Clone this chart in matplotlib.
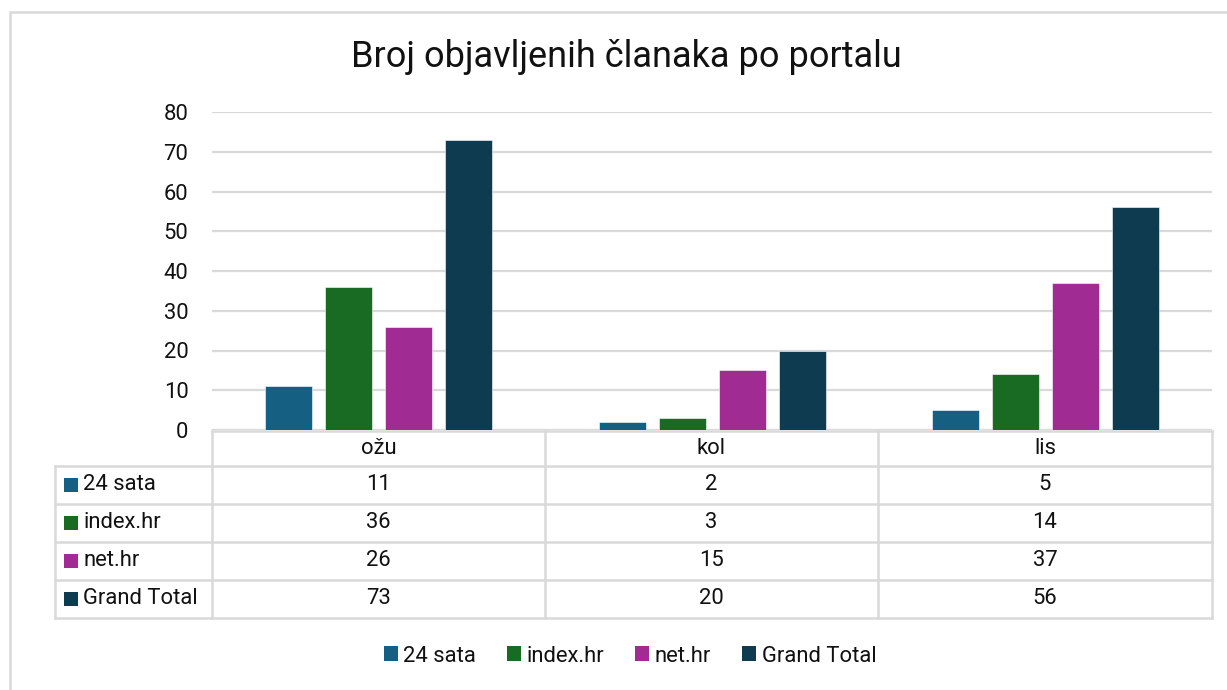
import matplotlib
matplotlib.use("Agg")
import matplotlib.pyplot as plt
import numpy as np
from matplotlib.lines import Line2D
from matplotlib.patches import Rectangle, Patch

plt.rcParams['font.family'] = ['Roboto', 'DejaVu Sans']

categories = ['ožu', 'kol', 'lis']
series_names = ['24 sata', 'index.hr', 'net.hr', 'Grand Total']
sata24 = [11, 2, 5]
index_hr = [36, 3, 14]
net_hr = [26, 15, 37]
grand_total = [73, 20, 56]
values = [sata24, index_hr, net_hr, grand_total]
colors = ['#156082', '#196B24', '#A02B93', '#0E3B50']
title = 'Broj objavljenih članaka po portalu'

W, H = 1227, 690
fig = plt.figure(figsize=(W / 100, H / 100), dpi=100)
fig.patch.set_facecolor('white')

def fx(x):
    return x / W

def fy(y):
    return 1 - y / H

GRID = '#d9d9d9'
TXT = '#111111'
FS = 15.8

# outer chart border
fig.add_artist(Rectangle((fx(10), fy(700)), fx(1240) - fx(10), fy(12) - fy(700),
                         transform=fig.transFigure, fill=False, edgecolor=GRID, lw=1.8))

# title
fig.text(fx(626), fy(57), title, ha='center', va='center', fontsize=26, color=TXT)

# main axes
L, R, T, B = 212, 1212, 112, 430
ax = fig.add_axes([fx(L), fy(B), fx(R) - fx(L), fy(T) - fy(B)])
x = np.arange(len(categories))
step, width = 0.18, 0.141
offsets = (np.arange(len(series_names)) - 1.5) * step
for vals, name, col, off in zip(values, series_names, colors, offsets):
    ax.bar(x + off, vals, width=width, color=col, label=name, zorder=3,
           edgecolor='white', linewidth=0.4)
ax.set_xlim(-0.5, len(categories) - 0.5)
ax.set_ylim(0, 80)
ax.set_yticks(np.arange(0, 81, 10))
ax.yaxis.grid(True, color=GRID, lw=1.6, zorder=0)
ax.set_xticks([])
for s in ax.spines.values():
    s.set_visible(False)
ax.tick_params(axis='y', length=0, pad=17, labelsize=FS, labelcolor=TXT)
ax.set_facecolor('none')

# data table
cols_x = [212, 545, 878, 1212]
rows_y = [466, 504, 542, 580, 618]
lw_t = 1.8
def hline(y, x0, x1):
    fig.add_artist(Line2D([fx(x0), fx(x1)], [fy(y), fy(y)], transform=fig.transFigure,
                          color=GRID, lw=lw_t))
def vline(x, y0, y1):
    fig.add_artist(Line2D([fx(x), fx(x)], [fy(y0), fy(y1)], transform=fig.transFigure,
                          color=GRID, lw=lw_t))

hline(431, 212, 1212)
for y in rows_y:
    hline(y, 55, 1212)
for xc in cols_x:
    vline(xc, 431, 618)
vline(55, 466, 618)

col_centers = [(cols_x[i] + cols_x[i + 1]) / 2 for i in range(len(categories))]
for cx, cat in zip(col_centers, categories):
    fig.text(fx(cx), fy(448), cat, ha='center', va='center', fontsize=FS, color=TXT)

for r, (name, col, vals) in enumerate(zip(series_names, colors, values)):
    yc = (rows_y[r] + rows_y[r + 1]) / 2
    fig.add_artist(Rectangle((fx(64), fy(yc + 7)), fx(14), fy(0) - fy(14),
                             transform=fig.transFigure, facecolor=col, edgecolor='none'))
    fig.text(fx(83), fy(yc), name, ha='left', va='center', fontsize=FS, color=TXT)
    for cx, v in zip(col_centers, vals):
        fig.text(fx(cx), fy(yc), str(v), ha='center', va='center', fontsize=FS, color=TXT)

# legend
handles = [Patch(facecolor=c, edgecolor='none') for c in colors]
fig.legend(handles, series_names, loc='center', bbox_to_anchor=(fx(630), fy(656)),
           ncol=4, frameon=False, fontsize=FS, handlelength=0.65, handleheight=0.65,
           handletextpad=0.25, columnspacing=1.4, labelcolor=TXT)

fig.savefig('out.png', dpi=100)
